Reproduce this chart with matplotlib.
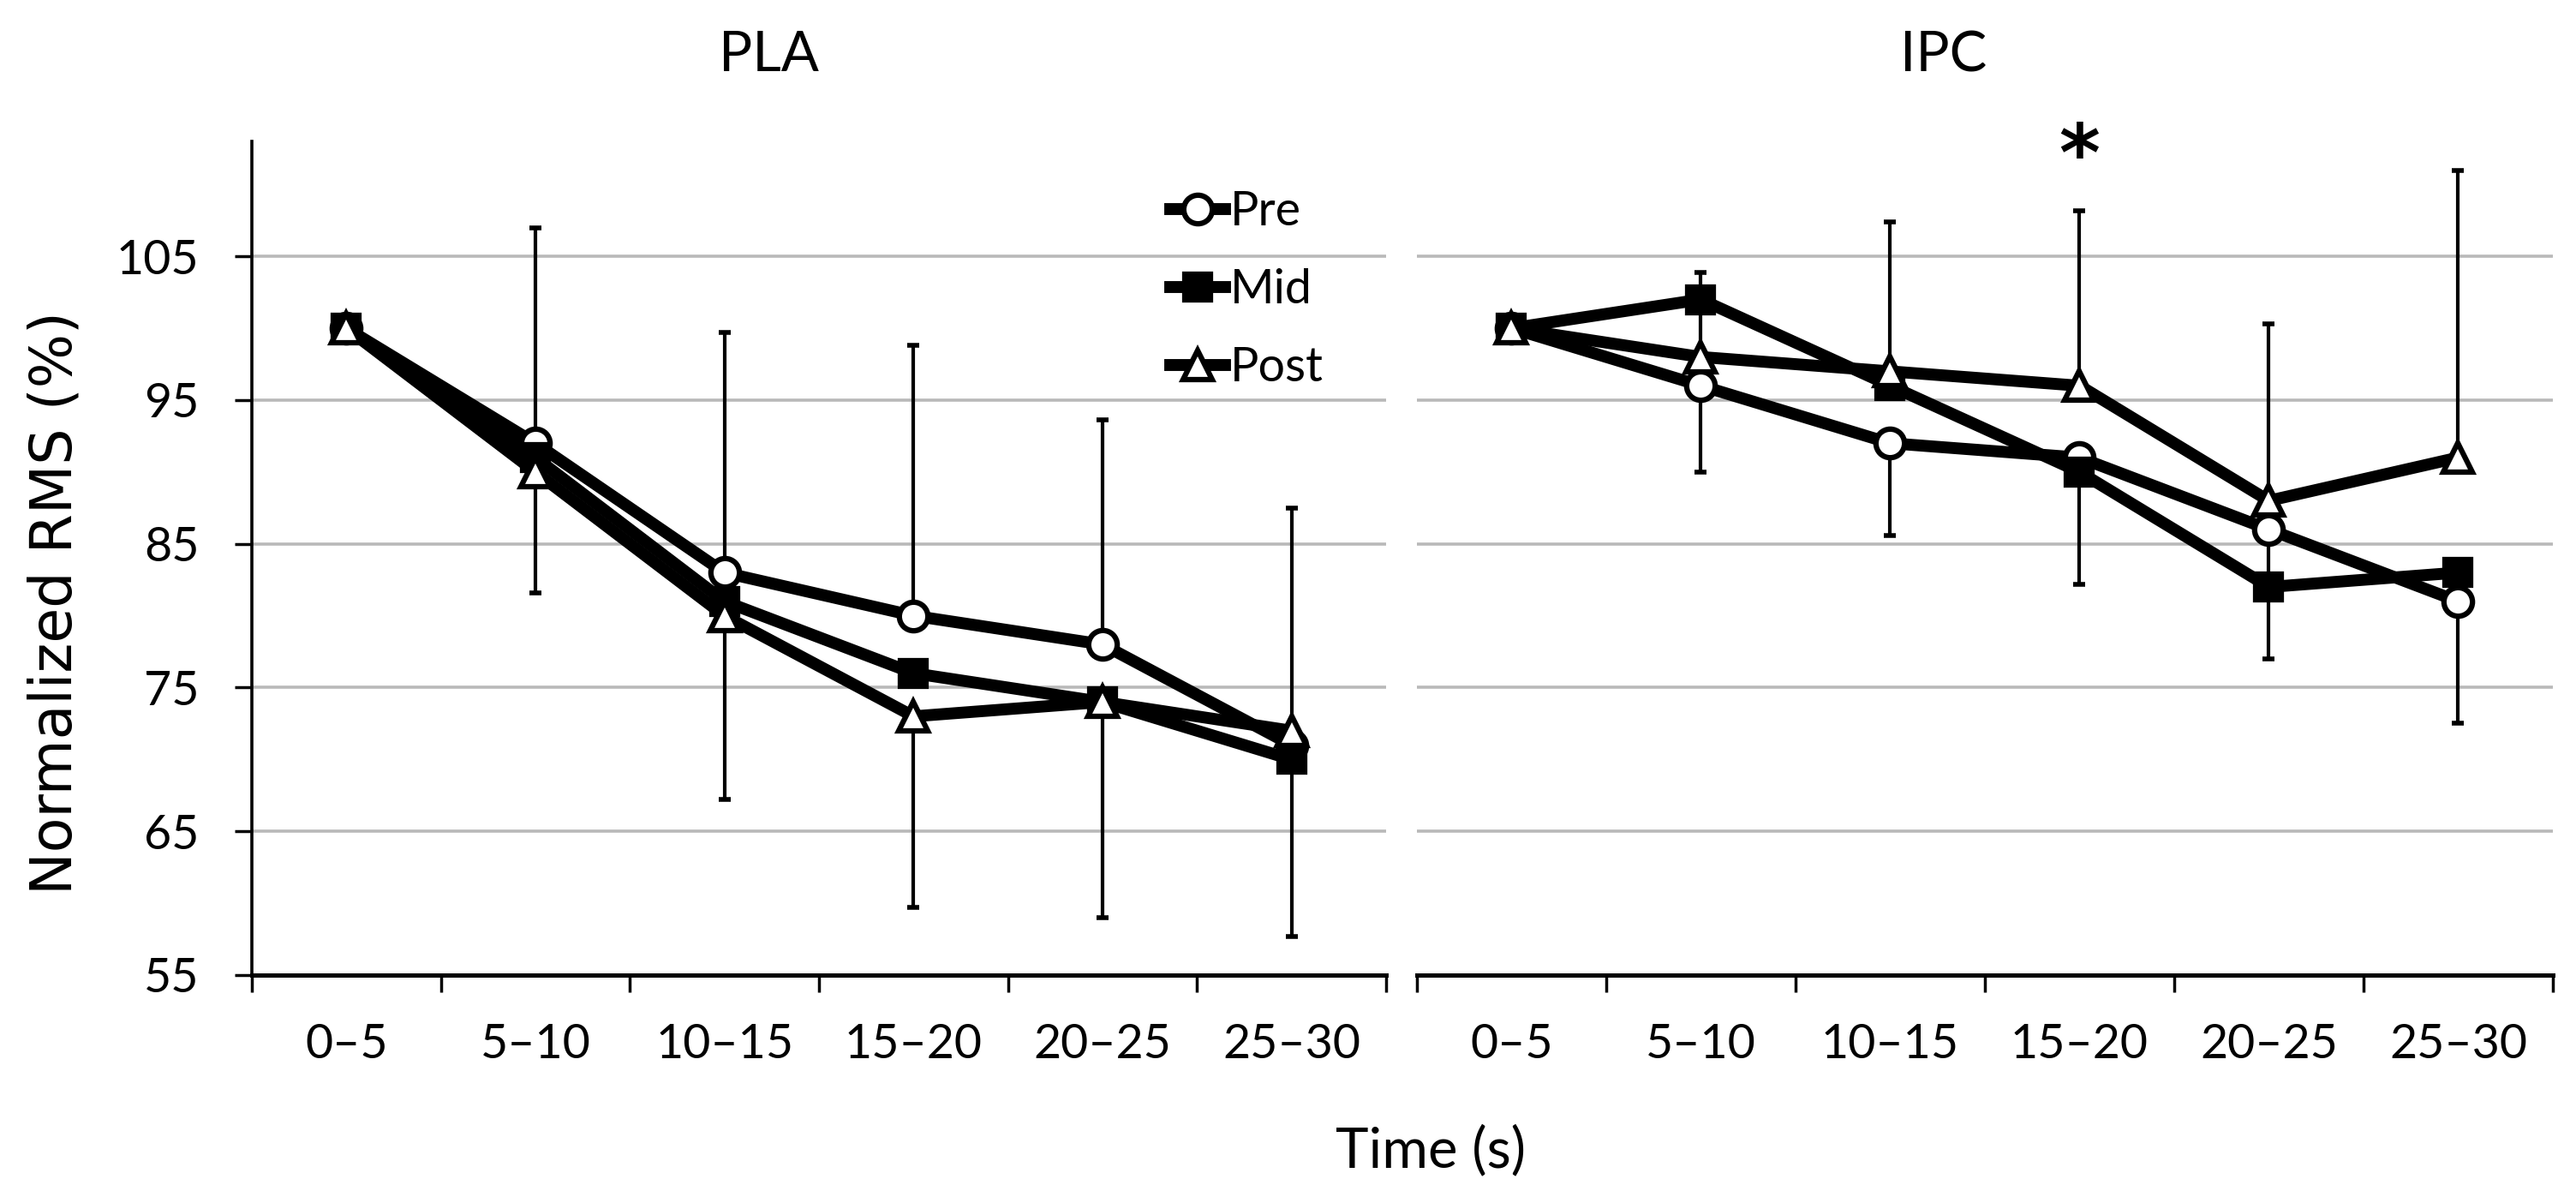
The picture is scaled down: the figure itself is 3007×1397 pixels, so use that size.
import numpy as np
import matplotlib
matplotlib.use("Agg")
import matplotlib.pyplot as plt

# data
periods = ["0\u20135", "5\u201310", "10\u201315", "15\u201320", "20\u201325", "25\u201330"]

pla_pre = [100, 92, 83, 80, 78, 71]
pla_mid = [100, 91, 81, 76, 74, 70]
pla_post = [100, 90, 80, 73, 74, 72]
pla_err_up = [0, 15.0, 16.7, 18.8, 15.6, 16.5]    # drawn up from Pre
pla_err_dn = [0, 8.4, 12.8, 13.3, 15.0, 14.3]     # drawn down from Post

ipc_pre = [100, 96, 92, 91, 86, 81]
ipc_mid = [100, 102, 96, 90, 82, 83]
ipc_post = [100, 98, 97, 96, 88, 91]
ipc_err_up = [0, 5.9, 10.4, 12.2, 12.3, 20.0]     # drawn up from Post
ipc_err_dn = [0, 6.0, 6.4, 8.8, 9.0, 8.5]         # drawn down from Pre

yticks = [55, 65, 75, 85, 95, 105]

W, H = 3007, 1397
fig = plt.figure(figsize=(W / 100, H / 100), dpi=100)

y0 = 1 - 1138 / H
hgt = (1138 - 165) / H
axL = fig.add_axes([294 / W, y0, (1618 - 294) / W, hgt])
axR = fig.add_axes([1654 / W, y0, (2980 - 1654) / W, hgt])

TF = "Lato"
x = np.arange(len(periods))


def draw_panel(ax, pre, mid, post, up_src, up, dn_src, dn):
    ax.set_xlim(-0.5, 5.5)
    ax.set_ylim(55, 113)
    ax.set_yticks(yticks)
    ax.yaxis.grid(True, color="#b9b9b9", lw=2.6, zorder=0)
    ax.set_axisbelow(True)

    ax.errorbar(x, up_src, yerr=[np.zeros(6), up], fmt="none", ecolor="black",
                elinewidth=3, capsize=4.7, capthick=4, zorder=1.5)
    ax.errorbar(x, dn_src, yerr=[dn, np.zeros(6)], fmt="none", ecolor="black",
                elinewidth=3, capsize=4.7, capthick=4, zorder=1.5)

    h1, = ax.plot(x, pre, color="black", lw=10, marker="o", ms=24, mfc="white",
                  mec="black", mew=4.5, zorder=3, label="Pre")
    h2, = ax.plot(x, mid, color="black", lw=10, marker="s", ms=21, mfc="black",
                  mec="black", mew=4.5, zorder=3, label="Mid")
    h3, = ax.plot(x, post, color="black", lw=10, marker="^", ms=25, mfc="white",
                  mec="black", mew=4.5, zorder=3, label="Post")

    ax.set_xticks(x)
    ax.set_xticklabels(periods, fontsize=40, family=TF)
    ax.set_xticks(np.arange(-0.5, 6, 1), minor=True)
    ax.tick_params(axis="x", which="major", length=0, pad=40)
    ax.tick_params(axis="x", which="minor", length=14.4, width=2.5, direction="out")
    for s in ["top", "right"]:
        ax.spines[s].set_visible(False)
    ax.spines["bottom"].set_linewidth(3.6)
    return [h1, h2, h3]


handles = draw_panel(axL, pla_pre, pla_mid, pla_post, pla_pre, pla_err_up, pla_post, pla_err_dn)
draw_panel(axR, ipc_pre, ipc_mid, ipc_post, ipc_post, ipc_err_up, ipc_pre, ipc_err_dn)

axL.spines["left"].set_linewidth(2.6)
axL.set_yticklabels([str(v) for v in yticks], fontsize=40, family=TF)
axL.tick_params(axis="y", length=14.4, width=2.5, direction="out", pad=30)

axR.spines["left"].set_visible(False)
axR.tick_params(axis="y", length=0, labelleft=False)

# significance mark over 15-20
axR.text(3, 111.8, "*", ha="center", va="center", fontsize=66, family="DejaVu Sans",
         fontweight="bold", clip_on=False)

leg = axL.legend(handles=handles, loc="upper left",
                 bbox_to_anchor=(1366 / W, 1 - 222 / H), bbox_transform=fig.transFigure,
                 frameon=False, prop={"family": TF, "size": 40}, handlelength=1.15,
                 handletextpad=0.1, labelspacing=0.72, borderpad=0, borderaxespad=0)

fig.text(897 / W, 1 - 83 / H, "PLA", ha="center", va="baseline", fontsize=47, family=TF)
fig.text(2269 / W, 1 - 83 / H, "IPC", ha="center", va="baseline", fontsize=47, family=TF)
fig.text(1670 / W, 1 - 1362 / H, "Time (s)", ha="center", va="baseline", fontsize=47, family=TF)
fig.text(65 / W, 1 - 704 / H, "Normalized RMS (%)", rotation=90, ha="center", va="center",
         fontsize=48, family="DejaVu Sans")

fig.savefig("out.png", dpi=100, facecolor="white")
